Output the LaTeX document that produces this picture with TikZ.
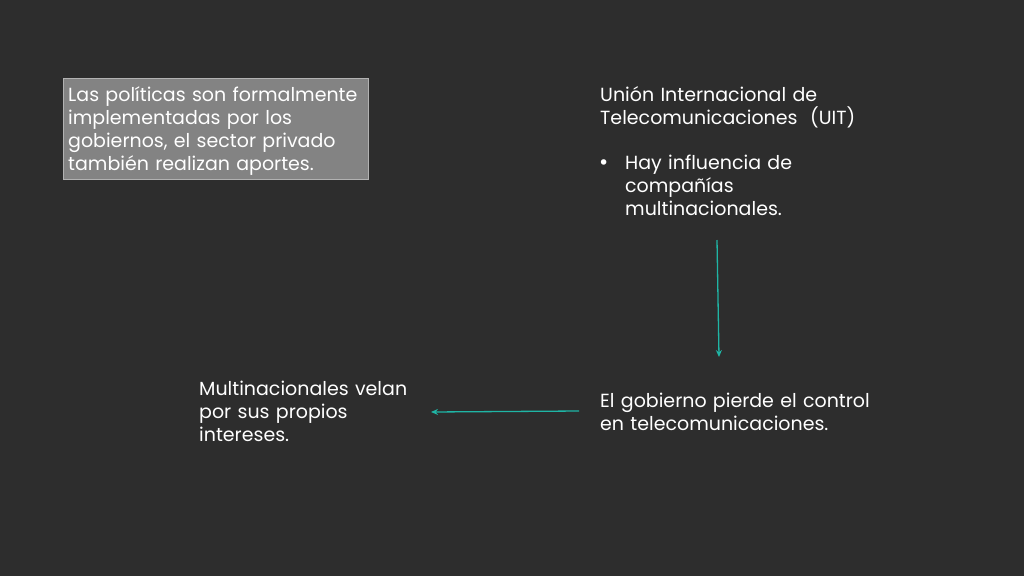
\documentclass[tikz,border=0pt]{standalone}
\usepackage{fontspec}
\setmainfont{Poppins}
\newfontfamily\symfont{DejaVu Sans}
\usetikzlibrary{arrows.meta}
\definecolor{bg}{HTML}{2D2D2D}
\definecolor{boxgray}{HTML}{838383}
\definecolor{teal}{HTML}{1FB5A5}
\tikzset{
  txt/.style={anchor=north west, inner sep=0pt, align=left, text=white,
    font=\fontsize{19pt}{23pt}\selectfont},
  conn/.style={draw=teal, line width=1.3pt, -{Stealth[length=7pt,width=6pt]}}
}
\begin{document}
\begin{tikzpicture}[x=1pt,y=-1pt]
\fill[bg] (0,0) rectangle (1024,576);
\useasboundingbox (0,0) rectangle (1024,576);
\node[fill=boxgray, draw=gray!60, minimum width=305pt, minimum height=101pt, anchor=north west, inner sep=0pt] (box) at (63,78) {};
\node[txt, text width=300pt] (t1) at (68,86) {Las políticas son formalmente\\implementadas por los\\gobiernos, el sector privado\\también realizan aportes.};
\node[txt, text width=300pt] (t2) at (600,86) {Unión Internacional de\\Telecomunicaciones~ (UIT)};
\node[txt] (bul) at (598,159) {{\symfont\fontsize{19pt}{23pt}\selectfont •}};
\node[txt, text width=250pt] (t3) at (625,155) {Hay influencia de\\compañías\\multinacionales.};
\node[txt, text width=300pt] (t4) at (600,393) {El gobierno pierde el control\\en telecomunicaciones.};
\node[txt, text width=250pt] (t5) at (199,381) {Multinacionales velan\\por sus propios\\intereses.};
\coordinate (a1) at (717,240);
\coordinate (a2) at (719,357);
\coordinate (b1) at (579,411);
\coordinate (b2) at (431,412);
\draw[conn] (a1) -- (a2);
\draw[conn] (b1) -- (b2);
\end{tikzpicture}
\end{document}
